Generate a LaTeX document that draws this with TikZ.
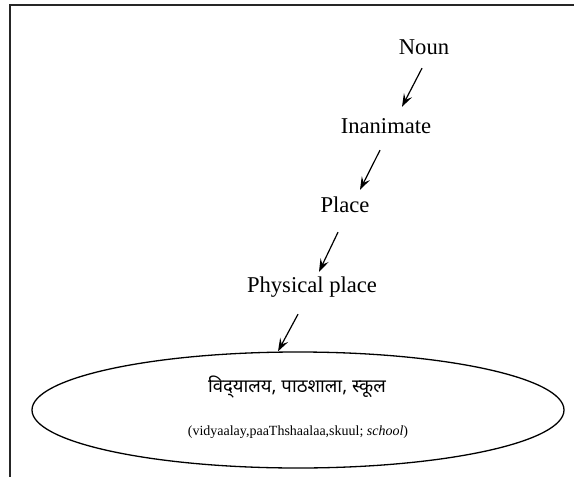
\documentclass[tikz,border=0pt]{standalone}
\usepackage{fontspec}
\setmainfont{Liberation Serif}
\newfontfamily\devfont[Script=Devanagari]{Noto Sans}
\usetikzlibrary{shapes.geometric,arrows.meta}

\begin{document}
\begin{tikzpicture}[x=1pt,y=-1pt,
  frameline/.style={line width=1.8pt, draw=black!85},
  lbl/.style={inner sep=0pt, anchor=base, text height=16pt, text depth=5pt,
              font=\fontsize{22.6}{27}\selectfont},
  isa/.style={line width=1.2pt, -{Stealth[length=13pt, width=9pt, inset=5pt]}},
  synset/.style={draw, ellipse, line width=1.3pt, inner sep=0pt,
                 minimum width=532pt, minimum height=116pt},
  hindi/.style={inner sep=0pt, font=\devfont\fontsize{18.5}{22}\selectfont},
  translit/.style={inner sep=0pt, font=\fontsize{14}{17}\selectfont}]
  \useasboundingbox (0,0) rectangle (574,477);

  % open frame: top and left edges only
  \draw[frameline] (574,5) -- (10,5) -- (10,477);

  % hypernymy chain
  \node[lbl] (noun)  at (424,54)  {Noun};
  \node[lbl] (inan)  at (386,133) {Inanimate};
  \node[lbl] (place) at (345,212) {Place};
  \node[lbl] (phys)  at (312,292) {Physical place};

  % synset (ZWNJ keeps the halant of द् visible)
  \node[synset] (school) at (298,410) {};
  \node[hindi] (hin) at (297,387) {विद्^^^^200cयालय, पाठशाला, स्कूल};
  \node[translit] (tr) at (298,432) {(vidyaalay,paaThshaalaa,skuul; \textit{school})};

  % is-a arrows
  \draw[isa] ([shift={(-2,9)}]noun.south)   -- ([shift={(16,-10)}]inan.north);
  \draw[isa] ([shift={(-6,12)}]inan.south)  -- ([shift={(15,-6)}]place.north);
  \draw[isa] ([shift={(-7,15)}]place.south) -- ([shift={(7,-4)}]phys.north);
  \draw[isa] ([shift={(-14,17)}]phys.south) -- ([xshift=-20pt]school.north);
\end{tikzpicture}
\end{document}
